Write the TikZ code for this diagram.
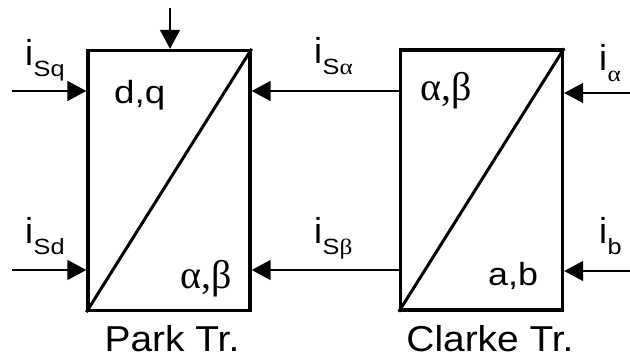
\documentclass[tikz,border=0pt]{standalone}
\usepackage{fontspec}
\setmainfont{Liberation Sans}
\newfontfamily\grk{Liberation Serif}
\usetikzlibrary{arrows.meta}
\newcommand{\curlab}[2]{{\fontsize{36}{40}\selectfont i}\kern0.5pt\lower11pt\hbox{\scalebox{1.15}[1]{\fontsize{22}{24}\selectfont #2}}}
\newcommand{\wide}[2]{\scalebox{#1}[1]{#2}}
\begin{document}
\begin{tikzpicture}[x=1pt,y=-1pt,
  blk/.style={draw,line width=3.4pt,minimum width=162pt,minimum height=260pt,inner sep=0pt,line join=miter},
  arr/.style={line width=1.5pt,-{Triangle[length=19pt,width=20pt]}},
  diag/.style={line width=3pt},
  lab/.style={inner sep=0pt,anchor=base west},
  ttl/.style={inner sep=0pt,anchor=base,font=\fontsize{36}{40}\selectfont},
  inlab/.style={inner sep=0pt,anchor=base west,font=\fontsize{32}{34}\selectfont},
  grlab/.style={inner sep=0pt,anchor=base west,font=\fontsize{40}{44}\selectfont\grk}]
\useasboundingbox (0,0) rectangle (630,359);
\node[blk] (park) at (169,180.5) {};
\node[blk] (clarke) at (481.5,180) {};
\draw[diag] (park.south west) -- (park.north east);
\draw[diag] (clarke.south west) -- (clarke.north east);
% coordinates for free ends
\coordinate (top) at (170,8);
\coordinate (lq) at (12,91);
\coordinate (ld) at (12,270);
\coordinate (ra) at (632,93);
\coordinate (rb) at (632,271);
\draw[arr] (top) -- (top |- park.north);
\draw[arr] (lq) -- (lq -| park.west);
\draw[arr] (ld) -- (ld -| park.west);
\draw[arr] (clarke.west |- lq) -- (park.east |- lq);
\draw[arr] (clarke.west |- ld) -- (park.east |- ld);
\draw[arr] (ra) -- (ra -| clarke.east);
\draw[arr] (rb) -- (rb -| clarke.east);
% labels
\node[lab] (isq) at (25,65) {\curlab{i}{Sq}};
\node[lab] (isd) at (25,243) {\curlab{i}{Sd}};
\node[lab] (isa) at (314,63) {\curlab{i}{S{\grk α}}};
\node[lab] (isb) at (314,243) {\curlab{i}{S{\grk β}}};
\node[lab] (ia) at (599,70) {\curlab{i}{\grk α}};
\node[lab] (ib) at (599,243) {\curlab{i}{b}};
\node[inlab] (dq) at (114,103) {\wide{1.15}{d,q}};
\node[grlab] (pab) at (180,288) {α,β};
\node[grlab] (cab) at (420,100) {α,β};
\node[inlab] (ab) at (488,285) {\wide{1.12}{a,b}};
\node[ttl] (pt) at (172,351) {\wide{1.08}{Park Tr.}};
\node[ttl] (ct) at (490,351) {\wide{1.08}{Clarke Tr.}};
\end{tikzpicture}
\end{document}
